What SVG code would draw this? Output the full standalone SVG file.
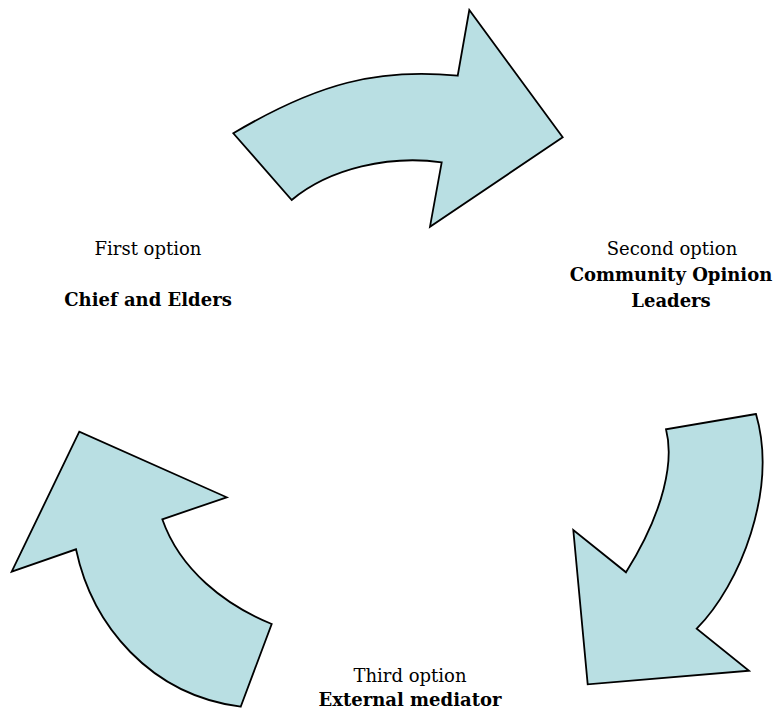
<svg xmlns="http://www.w3.org/2000/svg" width="776" height="709" viewBox="0 0 776 709">
<style>
.arrow{fill:#b9dfe3;stroke:#000;stroke-width:1.8;stroke-linejoin:miter}
.t{font-family:"DejaVu Serif","Liberation Serif",serif;font-size:18px;fill:#000;text-anchor:middle}
.b{font-weight:bold}
</style>
<rect width="776" height="709" fill="#fff"/>
<g id="connectors">
<path id="arrow-top" class="arrow" d="M233.3,133.3 C318,83 378,68 457.7,75.7 L469.3,10 L562.7,137.3 L430,226.7 L441.7,162.3 C390,155 330,168 291.7,200 Z"/>
<path id="arrow-right" class="arrow" d="M756,414 L666,429.3 C674,460 665,510 626,572.3 L573.3,530 L587.7,684.3 L749,670.7 L696.7,628.7 C740,585 778,490 756,414 Z"/>
<path id="arrow-left" class="arrow" d="M240.7,706.7 L271.7,624 C225,605 180,570 162.3,519.3 L226.7,497.3 L79.3,431.7 L11.7,571.7 L76,549.3 C92,625 150,695 240.7,706.7 Z"/>
</g>
<g id="node-first">
<text class="t" x="148" y="255">First option</text>
<text class="t b" x="148" y="306">Chief and Elders</text>
</g>
<g id="node-second">
<text class="t" x="672" y="255">Second option</text>
<text class="t b" x="671" y="281">Community Opinion</text>
<text class="t b" x="671" y="307">Leaders</text>
</g>
<g id="node-third">
<text class="t" x="410" y="682">Third option</text>
<text class="t b" x="410" y="706">External mediator</text>
</g>
</svg>
